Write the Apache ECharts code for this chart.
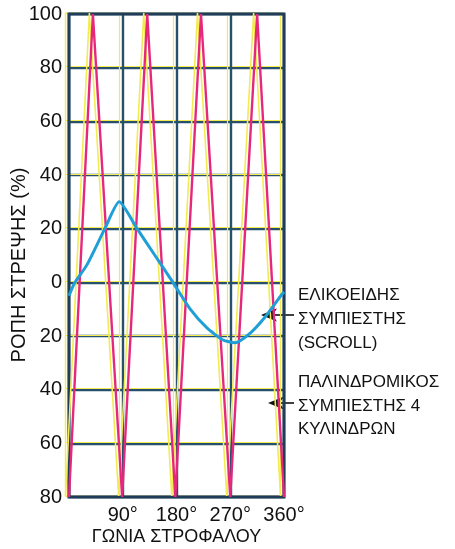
<!DOCTYPE html>
<html>
<head>
<meta charset="utf-8">
<script src="https://cdn.jsdelivr.net/npm/echarts@6/dist/echarts.min.js"></script>
<style>
  html, body { margin: 0; padding: 0; background: #fff; }
  #chart { width: 455px; height: 549px; }
</style>
</head>
<body>
<div id="chart"></div>
<script>
// Crank angle (degrees) and torque (%) for the 4-cylinder reciprocating compressor
const recipAngles = [0, 40, 89, 131, 178, 221, 270, 315, 360];
const recipTorque = [-80, 100, -80, 100, -80, 100, -80, 100, -80];

// Crank angle (degrees) and torque (%) for the scroll compressor
const scrollAngles = [0, 10, 30, 60, 84, 114, 144, 174, 203, 231, 258, 278, 303, 328, 353, 360];
const scrollTorque = [-5, 0, 6.5, 20, 30, 20, 10, 0, -10, -17, -21.5, -22.5, -19, -13, -5.5, -3.5];

// Axis ticks
const angleTicks = { min: 0, max: 360, step: 90 };
const torqueTicks = { min: -80, max: 100, step: 20 };

const xTitle = 'ΓΩΝΙΑ ΣΤΡΟΦΑΛΟΥ';
const yTitle = 'ΡΟΠΗ ΣΤΡΕΨΗΣ (%)';
const scrollNote = 'ΕΛΙΚΟΕΙΔΗΣ\nΣΥΜΠΙΕΣΤΗΣ\n(SCROLL)';
const recipNote = 'ΠΑΛΙΝΔΡΟΜΙΚΟΣ\nΣΥΜΠΙΕΣΤΗΣ 4\nΚΥΛΙΝΔΡΩΝ';

const FONT = '"Liberation Sans", Arial, sans-serif';
const INK = '#111';
const GRID_INK = '#27506f';
const YELLOW = '#f4ea52';
const MAGENTA = '#e6287c';
const CYAN = '#1e9fd8';

const pairs = (xs, ys) => xs.map((x, i) => [x, ys[i]]);

const chart = echarts.init(document.getElementById('chart'), null, { renderer: 'canvas' });

// Main plate plus a slightly offset yellow plate (print registration shift)
const plot = { left: 69, top: 14, width: 215, height: 483 };
const shift = { dx: -3.5, dy: -1 };

function axisFor(isX, gridIndex, main) {
  const t = isX ? angleTicks : torqueTicks;
  const ax = {
    gridIndex,
    type: 'value',
    min: t.min,
    max: t.max,
    interval: t.step,
    axisLine: { show: false },
    axisTick: { show: false },
    splitLine: {
      show: true,
      lineStyle: { color: main ? GRID_INK : YELLOW, width: main ? 2.4 : 1.2 }
    },
    axisLabel: { show: false }
  };
  if (main) {
    ax.axisLabel = {
      show: true,
      color: INK,
      fontFamily: FONT,
      fontSize: 20,
      margin: isX ? 8 : 7,
      formatter: isX
        ? (v) => (v === 0 ? '' : v + '°')
        : (v) => String(Math.abs(v))
    };
  }
  return ax;
}

const gridBox = (dx, dy) => ({
  left: plot.left + dx, top: plot.top + dy, width: plot.width, height: plot.height,
  outerBoundsMode: 'none', containLabel: false, show: true, backgroundColor: 'transparent'
});

const option = {
  backgroundColor: '#ffffff',
  animation: false,
  grid: [
    Object.assign(gridBox(0, 0), { borderColor: '#1f3d58', borderWidth: 3, z: 1 }),
    Object.assign(gridBox(shift.dx, shift.dy), { borderColor: YELLOW, borderWidth: 1.2, z: 0 })
  ],
  xAxis: [axisFor(true, 0, true), axisFor(true, 1, false)],
  yAxis: [axisFor(false, 0, true), axisFor(false, 1, false)],
  series: [
    {
      name: 'recip-yellow',
      type: 'line',
      xAxisIndex: 1, yAxisIndex: 1,
      data: pairs(recipAngles, recipTorque),
      symbol: 'none',
      lineStyle: { color: YELLOW, width: 1.6 },
      z: 1,
      silent: true
    },
    {
      name: 'recip',
      type: 'line',
      xAxisIndex: 0, yAxisIndex: 0,
      data: pairs(recipAngles, recipTorque),
      symbol: 'none',
      lineStyle: { color: MAGENTA, width: 2.4 },
      z: 3,
      silent: true
    },
    {
      name: 'scroll',
      type: 'line',
      xAxisIndex: 0, yAxisIndex: 0,
      data: pairs(scrollAngles, scrollTorque),
      symbol: 'none',
      smooth: 0.2,
      lineStyle: { color: CYAN, width: 3 },
      z: 4,
      silent: true
    }
  ],
  graphic: [
    {
      type: 'text',
      x: 19, y: 265,
      rotation: Math.PI / 2,
      style: {
        text: yTitle, fill: INK, font: '20px ' + FONT,
        align: 'center', verticalAlign: 'middle'
      }
    },
    {
      type: 'text',
      x: plot.left + plot.width / 2, y: 537,
      style: {
        text: xTitle, fill: INK, font: '18px ' + FONT,
        align: 'center', verticalAlign: 'middle'
      }
    },
    {
      type: 'text', x: 298, y: 283,
      style: {
        text: scrollNote, fill: INK, font: '17px ' + FONT,
        lineHeight: 24, align: 'left', verticalAlign: 'top'
      }
    },
    {
      type: 'text', x: 298, y: 371,
      style: {
        text: recipNote, fill: INK, font: '17px ' + FONT,
        lineHeight: 23.5, align: 'left', verticalAlign: 'top'
      }
    },
    // Pointer to the scroll curve
    {
      type: 'line',
      shape: { x1: 294, y1: 315, x2: 270, y2: 315 },
      style: { stroke: INK, lineWidth: 1.6 }
    },
    {
      type: 'polygon',
      shape: { points: [[261, 315], [277, 308.5], [272.5, 315], [277, 321.5]] },
      style: { fill: INK }
    },
    // Pointer to the reciprocating curve
    {
      type: 'line',
      shape: { x1: 294, y1: 403, x2: 276, y2: 403 },
      style: { stroke: INK, lineWidth: 1.6 }
    },
    {
      type: 'polygon',
      shape: { points: [[268, 403], [284, 396.5], [279.5, 403], [284, 409.5]] },
      style: { fill: INK }
    }
  ]
};

chart.setOption(option);
</script>
</body>
</html>
